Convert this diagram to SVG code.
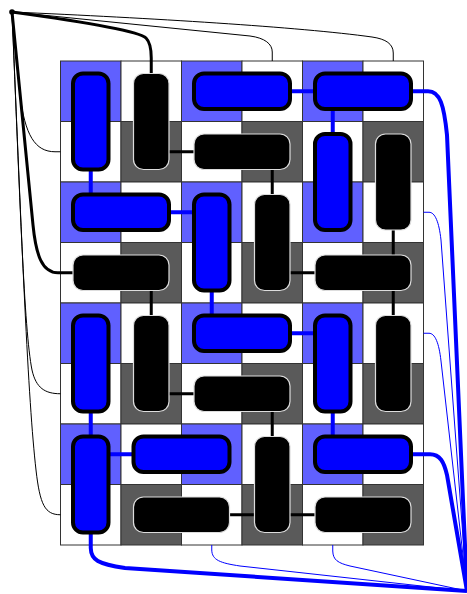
<svg xmlns="http://www.w3.org/2000/svg" width="467" height="594" viewBox="0 0 467 594">
<style>
.cb{fill:#6060ff;stroke:#333;stroke-width:1}
.cw{fill:#fff;stroke:#333;stroke-width:1}
.cg{fill:#5a5a5a;stroke:#333;stroke-width:1}
.nb{fill:#0000ff;stroke:#000;stroke-width:4}
.nk{fill:#000;stroke:#ddd;stroke-width:1.2}
.lb{stroke:#0000ff;stroke-width:4;fill:none}
.lk{stroke:#000;stroke-width:3;fill:none}
.tk{stroke:#000;stroke-width:3;fill:none}
.tn{stroke:#000;stroke-width:1;fill:none}
.bt{stroke:#0000ff;stroke-width:4;fill:none}
.bn{stroke:#0000ff;stroke-width:1;fill:none}
</style>
<rect width="467" height="594" fill="#fff"/>
<g id="grid">
<rect class="cb" x="60.5" y="61" width="60.5" height="60.5"/><rect class="cw" x="121" y="61" width="60.5" height="60.5"/><rect class="cb" x="181.5" y="61" width="60.5" height="60.5"/><rect class="cw" x="242" y="61" width="60.5" height="60.5"/><rect class="cb" x="302.5" y="61" width="60.5" height="60.5"/><rect class="cw" x="363" y="61" width="60.5" height="60.5"/>
<rect class="cw" x="60.5" y="121.5" width="60.5" height="60.5"/><rect class="cg" x="121" y="121.5" width="60.5" height="60.5"/><rect class="cw" x="181.5" y="121.5" width="60.5" height="60.5"/><rect class="cg" x="242" y="121.5" width="60.5" height="60.5"/><rect class="cw" x="302.5" y="121.5" width="60.5" height="60.5"/><rect class="cg" x="363" y="121.5" width="60.5" height="60.5"/>
<rect class="cb" x="60.5" y="182" width="60.5" height="60.5"/><rect class="cw" x="121" y="182" width="60.5" height="60.5"/><rect class="cb" x="181.5" y="182" width="60.5" height="60.5"/><rect class="cw" x="242" y="182" width="60.5" height="60.5"/><rect class="cb" x="302.5" y="182" width="60.5" height="60.5"/><rect class="cw" x="363" y="182" width="60.5" height="60.5"/>
<rect class="cw" x="60.5" y="242.5" width="60.5" height="60.5"/><rect class="cg" x="121" y="242.5" width="60.5" height="60.5"/><rect class="cw" x="181.5" y="242.5" width="60.5" height="60.5"/><rect class="cg" x="242" y="242.5" width="60.5" height="60.5"/><rect class="cw" x="302.5" y="242.5" width="60.5" height="60.5"/><rect class="cg" x="363" y="242.5" width="60.5" height="60.5"/>
<rect class="cb" x="60.5" y="303" width="60.5" height="60.5"/><rect class="cw" x="121" y="303" width="60.5" height="60.5"/><rect class="cb" x="181.5" y="303" width="60.5" height="60.5"/><rect class="cw" x="242" y="303" width="60.5" height="60.5"/><rect class="cb" x="302.5" y="303" width="60.5" height="60.5"/><rect class="cw" x="363" y="303" width="60.5" height="60.5"/>
<rect class="cw" x="60.5" y="363.5" width="60.5" height="60.5"/><rect class="cg" x="121" y="363.5" width="60.5" height="60.5"/><rect class="cw" x="181.5" y="363.5" width="60.5" height="60.5"/><rect class="cg" x="242" y="363.5" width="60.5" height="60.5"/><rect class="cw" x="302.5" y="363.5" width="60.5" height="60.5"/><rect class="cg" x="363" y="363.5" width="60.5" height="60.5"/>
<rect class="cb" x="60.5" y="424" width="60.5" height="60.5"/><rect class="cw" x="121" y="424" width="60.5" height="60.5"/><rect class="cb" x="181.5" y="424" width="60.5" height="60.5"/><rect class="cw" x="242" y="424" width="60.5" height="60.5"/><rect class="cb" x="302.5" y="424" width="60.5" height="60.5"/><rect class="cw" x="363" y="424" width="60.5" height="60.5"/>
<rect class="cw" x="60.5" y="484.5" width="60.5" height="60.5"/><rect class="cg" x="121" y="484.5" width="60.5" height="60.5"/><rect class="cw" x="181.5" y="484.5" width="60.5" height="60.5"/><rect class="cg" x="242" y="484.5" width="60.5" height="60.5"/><rect class="cw" x="302.5" y="484.5" width="60.5" height="60.5"/><rect class="cg" x="363" y="484.5" width="60.5" height="60.5"/>
</g>
<g id="connectors">
<path class="lb" d="M90.75,169.5V194.5M169,212.25H194M290,91.25H315M332.75,109V134M211.75,290.5V315.5M290,333.25H315M90.75,411.5V436.5M108.5,454.25H133.5M332.75,411.5V436.5"/>
<path class="lk" d="M169,151.75H194M272.25,169.5V194.5M151.25,290.5V315.5M290,272.75H315M393.25,229.5V255M393.25,290.5V315.5M169,393.75H194M272.25,411.5V436.5M229.5,514.75H254.5M290,514.75H315"/>
<path class="tk" d="M12,12 C100,24 140,32 146,38 C150,42 151.25,48 151.25,58 L151.25,73.5"/>
<path class="tk" d="M12,12 C25,140 30,200 33,225 C36,255 42,272.75 58,272.75 L73,272.75"/>
<path class="tn" d="M12,12 L20,95 C25,135 35,151.75 55,151.75 L60.5,151.75"/>
<path class="tn" d="M12,12 C20,200 24,330 32,370 C36,388 45,393.75 60.5,393.75"/>
<path class="tn" d="M12,12 C22,250 28,400 36,470 C40,505 45,514.75 60.5,514.75"/>
<path class="tn" d="M12,12 L250,36 C265,38 272.25,44 272.25,52 L272.25,61"/>
<path class="tn" d="M12,12 C150,18 300,27 372,37 C386,39 393.25,44 393.25,53 L393.25,61"/>
<circle cx="12" cy="12" r="2.8" fill="#000"/>
<path class="bt" d="M411,91.25 L428,91.25 C440,91.25 444,105 447,135 L467,591"/>
<path class="bt" d="M411,454.25 L430,454.25 C440,454.25 444,462 447,475 L467,591"/>
<path class="bt" d="M90.75,532.5 L90.75,548 C91,560 98,564 125,568 L467,591"/>
<path class="bn" d="M423.5,212.25 L429,212.25 C435,212.25 439,222 441,240 L467,591"/>
<path class="bn" d="M423.5,333.25 L429,333.25 C435,333.25 439,343 441,361 L467,591"/>
<path class="bn" d="M211.75,545 L211.75,550 C212,560 220,563 240,566 L467,591"/>
<path class="bn" d="M332.75,545 L332.75,551 C333,560 338,563 350,566 L467,591"/>
</g>
<g id="B1"><rect class="nb" x="73" y="73.5" width="35.5" height="96" rx="10"/></g>
<g id="B2"><rect class="nb" x="194" y="73.5" width="96" height="35.5" rx="10"/></g>
<g id="B3"><rect class="nb" x="315" y="73.5" width="96" height="35.5" rx="10"/></g>
<g id="B4"><rect class="nb" x="315" y="134" width="35.5" height="96" rx="10"/></g>
<g id="B5"><rect class="nb" x="73" y="194.5" width="96" height="35.5" rx="10"/></g>
<g id="B6"><rect class="nb" x="194" y="194.5" width="35.5" height="96" rx="10"/></g>
<g id="B7"><rect class="nb" x="194" y="315.5" width="96" height="35.5" rx="10"/></g>
<g id="B8"><rect class="nb" x="73" y="315.5" width="35.5" height="96" rx="10"/></g>
<g id="B9"><rect class="nb" x="315" y="315.5" width="35.5" height="96" rx="10"/></g>
<g id="B10"><rect class="nb" x="73" y="436.5" width="35.5" height="96" rx="10"/></g>
<g id="B11"><rect class="nb" x="133.5" y="436.5" width="96" height="35.5" rx="10"/></g>
<g id="B12"><rect class="nb" x="315" y="436.5" width="96" height="35.5" rx="10"/></g>
<g id="K1"><rect class="nk" x="133.5" y="73.5" width="35.5" height="96" rx="10"/></g>
<g id="K2"><rect class="nk" x="194" y="134" width="96" height="35.5" rx="10"/></g>
<g id="K3"><rect class="nk" x="375.5" y="134" width="35.5" height="96" rx="10"/></g>
<g id="K4"><rect class="nk" x="254.5" y="194.5" width="35.5" height="96" rx="10"/></g>
<g id="K5"><rect class="nk" x="73" y="255" width="96" height="35.5" rx="10"/></g>
<g id="K6"><rect class="nk" x="315" y="255" width="96" height="35.5" rx="10"/></g>
<g id="K7"><rect class="nk" x="133.5" y="315.5" width="35.5" height="96" rx="10"/></g>
<g id="K8"><rect class="nk" x="375.5" y="315.5" width="35.5" height="96" rx="10"/></g>
<g id="K9"><rect class="nk" x="194" y="376" width="96" height="35.5" rx="10"/></g>
<g id="K10"><rect class="nk" x="254.5" y="436.5" width="35.5" height="96" rx="10"/></g>
<g id="K11"><rect class="nk" x="133.5" y="497" width="96" height="35.5" rx="10"/></g>
<g id="K12"><rect class="nk" x="315" y="497" width="96" height="35.5" rx="10"/></g>
</svg>
